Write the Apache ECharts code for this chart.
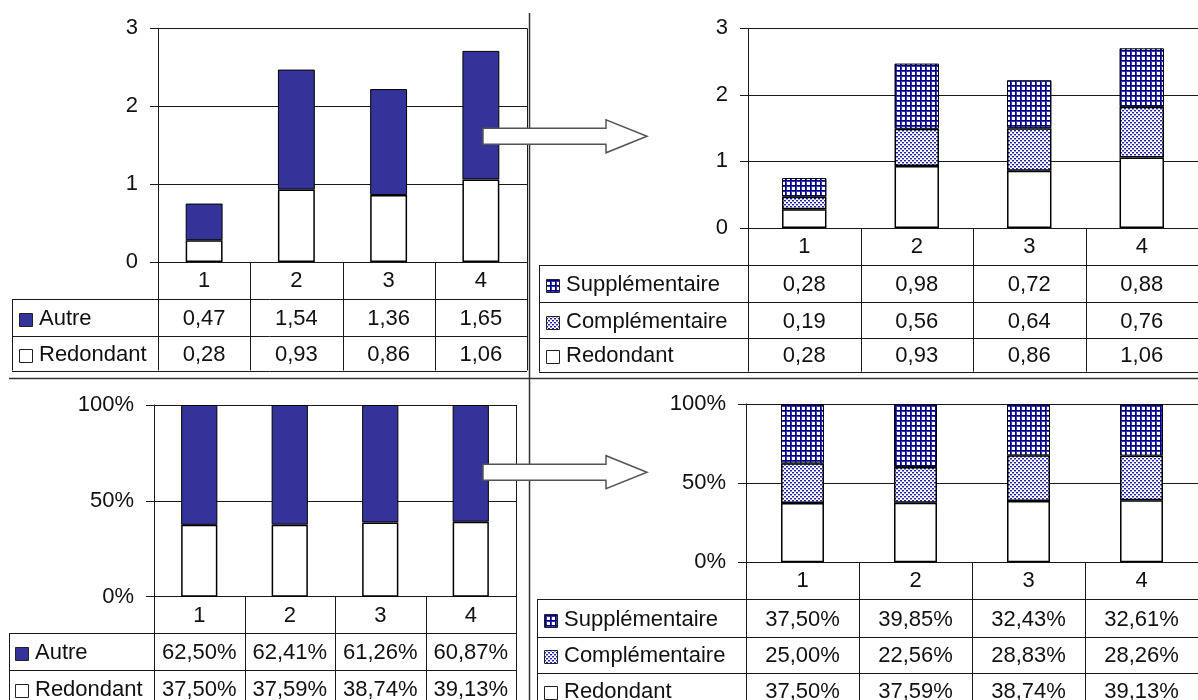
<!DOCTYPE html>
<html><head><meta charset="utf-8">
<script src="https://cdn.jsdelivr.net/npm/echarts@6/dist/echarts.min.js"></script>
<style>html,body{margin:0;padding:0;background:#fff}#c{width:1198px;height:700px}</style>
</head><body><div id="c"></div>
<script>
// ---------- data ----------
const categories = ['1', '2', '3', '4'];
const tlRedondant = [0.28, 0.93, 0.86, 1.06];
const tlAutre = [0.47, 1.54, 1.36, 1.65];
const trSupplementaire = [0.28, 0.98, 0.72, 0.88];
const trComplementaire = [0.19, 0.56, 0.64, 0.76];
const trRedondant = [0.28, 0.93, 0.86, 1.06];
const blAutre = [62.50, 62.41, 61.26, 60.87];
const blRedondant = [37.50, 37.59, 38.74, 39.13];
const brSupplementaire = [37.50, 39.85, 32.43, 32.61];
const brComplementaire = [25.00, 22.56, 28.83, 28.26];
const brRedondant = [37.50, 37.59, 38.74, 39.13];
const seriesNames = { autre: 'Autre', red: 'Redondant', comp: 'Complémentaire', supp: 'Supplémentaire' };

// ---------- styles ----------
const FONT = "'Liberation Sans', Arial, sans-serif";
const TXT = '#111';
const LINE = '#1a1a1a';
function gridPat() {
  const c = document.createElement('canvas'); c.width = 5; c.height = 5;
  const g = c.getContext('2d'); g.fillStyle = '#fff'; g.fillRect(0, 0, 5, 5);
  g.fillStyle = '#3838b0'; g.fillRect(0, 1, 5, 1); g.fillRect(1, 0, 1, 5);
  g.fillStyle = '#000080'; g.fillRect(0, 0, 5, 1); g.fillRect(0, 0, 1, 5);
  return { image: c, repeat: 'repeat' };
}
function dotPat() {
  const c = document.createElement('canvas'); c.width = 4; c.height = 4;
  const g = c.getContext('2d'); g.fillStyle = '#fff'; g.fillRect(0, 0, 4, 4);
  g.fillStyle = '#2323a8'; g.fillRect(0, 0, 2, 1); g.fillRect(2, 2, 2, 1);
  g.fillStyle = '#9a9ad8'; g.fillRect(0, 1, 2, 1); g.fillRect(2, 3, 2, 1);
  return { image: c, repeat: 'repeat' };
}
const FILLS = { autre: '#333399', red: '#ffffff', comp: dotPat(), supp: gridPat() };
const BORDERS = { red: 1.5, comp: 1.5, autre: 1, supp: 1 };

const fmtNum = v => v.toFixed(2).replace('.', ',');
const fmtPct = v => v.toFixed(2).replace('.', ',') + '%';

// panel layout
const panels = [
  { grid: { left: 158, top: 28.3, width: 369, height: 233.7 }, max: 3, interval: 1, pct: false, barWidth: '40%',
    stack: [['red', tlRedondant], ['autre', tlAutre]], rows: [['autre', tlAutre], ['red', tlRedondant]],
    tableLeft: 12, rowEdges: [262, 299, 336, 370.5], labelX: 19 },
  { grid: { left: 748, top: 28.3, width: 463, height: 199.7 }, max: 3, interval: 1, pct: false, barWidth: '39.5%',
    stack: [['red', trRedondant], ['comp', trComplementaire], ['supp', trSupplementaire]],
    rows: [['supp', trSupplementaire], ['comp', trComplementaire], ['red', trRedondant]],
    tableLeft: 539, rowEdges: [228, 265, 302.3, 337.7, 371.7], labelX: 546 },
  { grid: { left: 154, top: 405, width: 362, height: 191.7 }, max: 100, interval: 50, pct: true, barWidth: '40%',
    stack: [['red', blRedondant], ['autre', blAutre]], rows: [['autre', blAutre], ['red', blRedondant]],
    tableLeft: 9, rowEdges: [596.7, 633.3, 670, 707], labelX: 15 },
  { grid: { left: 746, top: 404, width: 464, height: 158.3 }, max: 100, interval: 50, pct: true, barWidth: '38%',
    stack: [['red', brRedondant], ['comp', brComplementaire], ['supp', brSupplementaire]],
    rows: [['supp', brSupplementaire], ['comp', brComplementaire], ['red', brRedondant]],
    tableLeft: 537, rowEdges: [562.3, 599.3, 636.7, 672.7, 709], labelX: 544 }
];

const chart = echarts.init(document.getElementById('c'), null, { renderer: 'canvas' });
const option = {
  backgroundColor: '#ffffff', animation: false,
  textStyle: { fontFamily: FONT },
  grid: [], xAxis: [], yAxis: [], series: []
};
panels.forEach((p, i) => {
  option.grid.push(Object.assign({ containLabel: false, show: false }, p.grid));
  option.xAxis.push({
    type: 'category', gridIndex: i, data: categories,
    axisLine: { show: true, lineStyle: { color: LINE, width: 1 } },
    axisTick: { show: false },
    axisLabel: { show: true, color: TXT, fontSize: 22, fontFamily: FONT, margin: 19, verticalAlign: 'middle' },
    splitLine: { show: false }
  });
  option.yAxis.push({
    type: 'value', gridIndex: i, min: 0, max: p.max, interval: p.interval,
    axisLine: { show: true, lineStyle: { color: LINE, width: 1 } },
    axisTick: { show: true, inside: false, length: 8, lineStyle: { color: LINE, width: 1 } },
    axisLabel: { color: TXT, fontSize: 22, fontFamily: FONT, margin: 20, formatter: p.pct ? '{value}%' : '{value}' },
    splitLine: { show: true, lineStyle: { color: LINE, width: 1 } }
  });
  p.stack.forEach(([key, arr]) => {
    option.series.push({
      type: 'bar', name: seriesNames[key], xAxisIndex: i, yAxisIndex: i, stack: 's' + i,
      barWidth: p.barWidth, data: arr,
      itemStyle: { color: FILLS[key], borderColor: '#000', borderWidth: BORDERS[key] },
      emphasis: { disabled: true }
    });
  });
});
chart.setOption(option);

// ---------- tables, frames, arrows ----------
const crisp = v => Math.round(v) + 0.5;
const g = [];
const lineEl = (x1, y1, x2, y2, w, c) => ({ type: 'line', silent: true, z: 50,
  shape: { x1, y1, x2, y2 }, style: { stroke: c || LINE, lineWidth: w || 1 } });
panels.forEach((p, i) => {
  const L = p.grid.left, R = p.grid.left + p.grid.width, T = p.grid.top;
  const edges = p.rowEdges, bottom = edges[edges.length - 1], y0 = edges[0];
  const centers = categories.map((c, k) => chart.convertToPixel({ gridIndex: i }, [k, 0])[0]);
  const bounds = [L];
  for (let k = 0; k < centers.length - 1; k++) bounds.push((centers[k] + centers[k + 1]) / 2);
  bounds.push(R);
  g.push(lineEl(crisp(L), T, crisp(L), bottom));
  g.push(lineEl(crisp(R), T, crisp(R), bottom));
  for (let k = 1; k < bounds.length - 1; k++) g.push(lineEl(crisp(bounds[k]), y0, crisp(bounds[k]), bottom));
  g.push(lineEl(crisp(p.tableLeft), edges[1], crisp(p.tableLeft), bottom));
  for (let r = 1; r < edges.length; r++) g.push(lineEl(p.tableLeft, crisp(edges[r]), R, crisp(edges[r])));
  p.rows.forEach(([key, arr], r) => {
    const yc = (edges[r + 1] + edges[r + 2]) / 2 + 1.5;
    g.push({ type: 'rect', silent: true, z: 51, shape: { x: p.labelX + 0.5, y: Math.round(yc - 6) + 0.5, width: 13, height: 13 },
      style: { fill: FILLS[key], stroke: '#222', lineWidth: 1 } });
    g.push({ type: 'text', silent: true, z: 51, style: { x: p.labelX + 20, y: yc, text: seriesNames[key],
      font: `22px ${FONT}`, fill: TXT, textAlign: 'left', textVerticalAlign: 'middle' } });
    arr.forEach((v, k) => {
      g.push({ type: 'text', silent: true, z: 51, style: { x: centers[k], y: yc, text: p.pct ? fmtPct(v) : fmtNum(v),
        font: `22px ${FONT}`, fill: TXT, textAlign: 'center', textVerticalAlign: 'middle' } });
    });
  });
});
// separators
g.push(lineEl(529.5, 13, 529.5, 700, 1.5, '#333'));
g.push(lineEl(9, 378.5, 1198, 378.5, 1.5, '#333'));
// arrows
function arrow(yc) {
  return { type: 'polygon', silent: true, z: 60,
    shape: { points: [[483, yc - 8], [606, yc - 8], [606, yc - 16.5], [647, yc], [606, yc + 16.5], [606, yc + 8], [483, yc + 8]] },
    style: { fill: '#ffffff', stroke: '#555', lineWidth: 1.5 } };
}
g.push(arrow(136.3));
g.push(arrow(472.2));
chart.setOption({ graphic: { elements: g } });
</script>
</body></html>
